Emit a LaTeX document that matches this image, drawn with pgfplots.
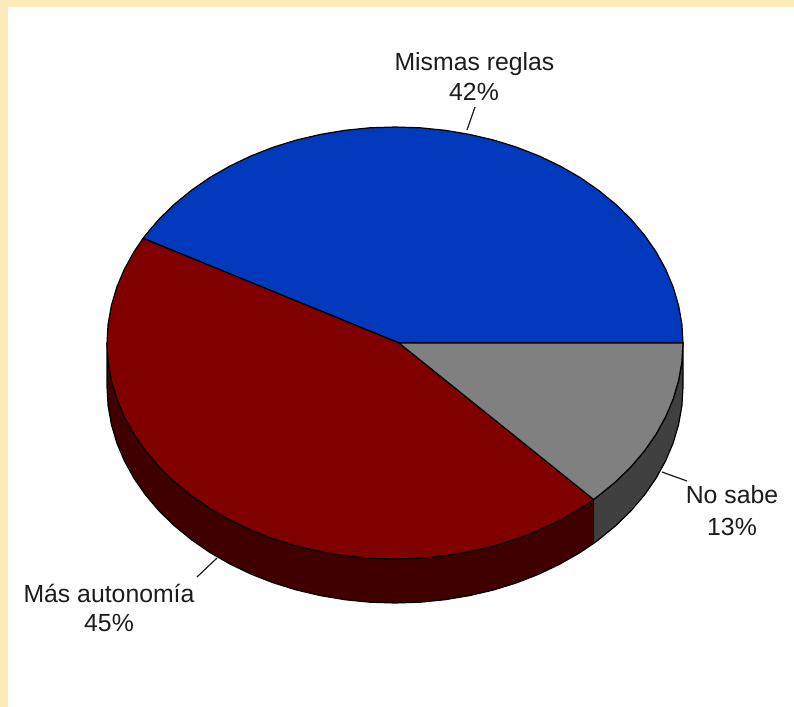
\documentclass[border=0pt]{standalone}
\usepackage{fontspec}
\setmainfont{Liberation Sans}
\usepackage{pgfplots}
\pgfplotsset{compat=1.18}
\definecolor{cream}{HTML}{FBEBBB}
\definecolor{pieblue}{HTML}{0039BC}
\definecolor{piered}{HTML}{800000}
\definecolor{piegrey}{HTML}{808080}
\definecolor{sidered}{HTML}{400000}
\definecolor{sidegrey}{HTML}{404040}
\definecolor{txt}{HTML}{1C1C1C}
\begin{document}
\begin{tikzpicture}
\begin{axis}[
  scale only axis, width=397pt, height=353.5pt,
  xmin=0, xmax=794, ymin=0, ymax=707, y dir=reverse,
  axis lines=none, clip=true,
  nodes={font=\fontsize{12.4}{15}\selectfont, text=txt, inner sep=0pt},
  edge/.style={draw=black, line width=0.6pt, line join=round}
]
% page ground and white panel
\addplot[fill=cream, draw=none] coordinates {(0,0) (794,0) (794,707) (0,707)} \closedcycle;
\addplot[fill=white, draw=none] coordinates {(8,7) (794,7) (794,707) (8,707)} \closedcycle;
% side of the red slice
\addplot[edge, fill=sidered] coordinates {
(107,343) (108.1,361.8) (111.4,380.5) (116.8,398.9) (124.4,416.9) (134.0,434.3) (145.6,451.0) (159.1,466.9) (174.4,481.8) (191.4,495.7) (209.9,508.5) (229.8,519.9) (251.0,530.1) (273.3,538.8) (296.5,546.0) (320.5,551.6) (345.0,555.7) (369.9,558.2) (395,559) (420.1,558.2) (445.0,555.7) (469.5,551.6) (493.5,546.0) (516.7,538.8) (539.0,530.1) (560.2,519.9) (580.1,508.5) (593.6,499.4)
(593.6,543.4) (580.1,552.5) (560.2,563.9) (539.0,574.1) (516.7,582.8) (493.5,590.0) (469.5,595.6) (445.0,599.7) (420.1,602.2) (395,603) (369.9,602.2) (345.0,599.7) (320.5,595.6) (296.5,590.0) (273.3,582.8) (251.0,574.1) (229.8,563.9) (209.9,552.5) (191.4,539.7) (174.4,525.8) (159.1,510.9) (145.6,495.0) (134.0,478.3) (124.4,460.9) (116.8,442.9) (111.4,424.5) (108.1,405.8) (107,387)
(107,343)};
% side of the grey slice
\addplot[edge, fill=sidegrey] coordinates {
(593.6,499.4) (598.6,495.7) (615.6,481.8) (630.9,466.9) (644.4,451.0) (656.0,434.3) (665.6,416.9) (673.2,398.9) (678.6,380.5) (681.9,361.8) (683,343)
(683,387) (681.9,405.8) (678.6,424.5) (673.2,442.9) (665.6,460.9) (656.0,478.3) (644.4,495.0) (630.9,510.9) (615.6,525.8) (598.6,539.7) (593.6,543.4)
(593.6,499.4)};
% Mismas reglas 42%
\addplot[edge, fill=pieblue] coordinates {
(399,343) (683,343) (681.9,324.2) (678.6,305.5) (673.2,287.1) (665.6,269.1) (656.0,251.7) (644.4,235.0) (630.9,219.1) (615.6,204.2) (598.6,190.3) (580.1,177.5) (560.2,166.1) (539.0,155.9) (516.7,147.2) (493.5,140.0) (469.5,134.4) (445.0,130.3) (420.1,127.8) (395,127) (369.9,127.8) (345.0,130.3) (320.5,134.4) (296.5,140.0) (273.3,147.2) (251.0,155.9) (229.8,166.1) (209.9,177.5) (191.4,190.3) (174.4,204.2) (159.1,219.1) (145.6,235.0) (143.1,238.3) (399,343)};
% Mas autonomia 45%
\addplot[edge, fill=piered] coordinates {
(399,343) (143.1,238.3) (134.0,251.7) (124.4,269.1) (116.8,287.1) (111.4,305.5) (108.1,324.2) (107,343) (108.1,361.8) (111.4,380.5) (116.8,398.9) (124.4,416.9) (134.0,434.3) (145.6,451.0) (159.1,466.9) (174.4,481.8) (191.4,495.7) (209.9,508.5) (229.8,519.9) (251.0,530.1) (273.3,538.8) (296.5,546.0) (320.5,551.6) (345.0,555.7) (369.9,558.2) (395,559) (420.1,558.2) (445.0,555.7) (469.5,551.6) (493.5,546.0) (516.7,538.8) (539.0,530.1) (560.2,519.9) (580.1,508.5) (593.6,499.4) (399,343)};
% No sabe 13%
\addplot[edge, fill=piegrey] coordinates {
(399,343) (593.6,499.4) (598.6,495.7) (615.6,481.8) (630.9,466.9) (644.4,451.0) (656.0,434.3) (665.6,416.9) (673.2,398.9) (678.6,380.5) (681.9,361.8) (683,343) (399,343)};
% leader lines
\addplot[draw=txt, line width=0.6pt] coordinates {(475,107) (467,130)};
\addplot[draw=txt, line width=0.6pt] coordinates {(662,472) (687,481)};
\addplot[draw=txt, line width=0.6pt] coordinates {(197,577) (217,558)};
% labels
\node[anchor=base] at (axis cs:474.5,70) {Mismas reglas};
\node[anchor=base] at (axis cs:474,100) {42\%};
\node[anchor=base] at (axis cs:732,503) {No sabe};
\node[anchor=base] at (axis cs:732,535) {13\%};
\node[anchor=base] at (axis cs:109,602) {Más autonomía};
\node[anchor=base] at (axis cs:109,631) {45\%};
\end{axis}
\end{tikzpicture}
\end{document}
